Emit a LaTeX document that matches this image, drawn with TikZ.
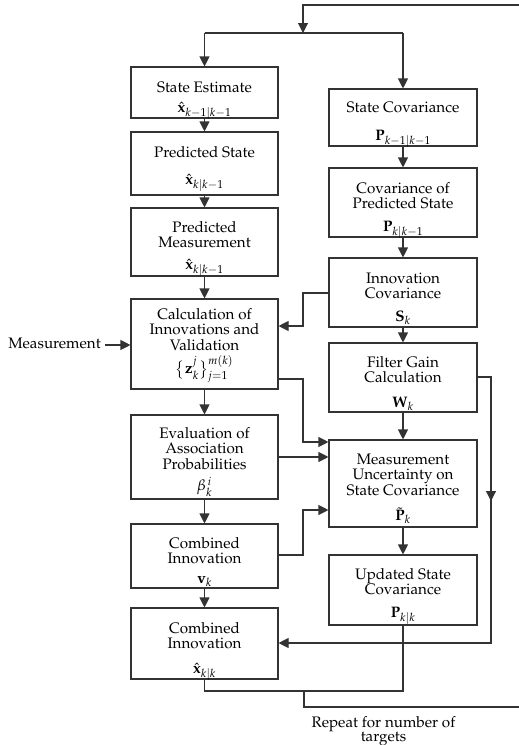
\documentclass[tikz,border=0pt]{standalone}
\usepackage[T1]{fontenc}
\usepackage{mathpazo}
\usetikzlibrary{arrows.meta}
\definecolor{ln}{HTML}{333333}
\newcommand\tstrut{\rule{0pt}{11.5pt}}
\tikzset{
  box/.style={draw=ln, line width=1.1pt, minimum width=147pt, inner sep=0pt},
  txt/.style={align=center, inner sep=0pt, anchor=north, text=black,
    font=\fontsize{15.2}{15.5}\selectfont},
  conn/.style={draw=ln, line width=1.1pt},
  arr/.style={conn, -{Triangle[width=10pt,length=10pt]}},
  lbl/.style={align=center, inner sep=0pt, font=\fontsize{15.2}{14}\selectfont}
}
\begin{document}
\begin{tikzpicture}[x=1pt,y=-1pt]
\useasboundingbox (0,0) rectangle (519,745);
% left column boxes
\node[box, minimum height=51pt] (se) at (204.5,92.5) {};
\node[box, minimum height=63pt] (ps) at (204.5,163.5) {};
\node[box, minimum height=68pt] (pm) at (204.5,242) {};
\node[box, minimum height=90pt] (ci) at (204.5,344) {};
\node[box, minimum height=84pt] (ev) at (204.5,457) {};
\node[box, minimum height=64pt] (cv) at (204.5,556) {};
\node[box, minimum height=71pt] (cx) at (204.5,643.5) {};
% right column boxes
\node[box, minimum width=148pt, minimum height=57pt] (sc) at (403,117.5) {};
\node[box, minimum width=148pt, minimum height=69pt] (cp) at (403,202.5) {};
\node[box, minimum width=148pt, minimum height=69pt] (ic) at (403,292.5) {};
\node[box, minimum width=148pt, minimum height=69pt] (fg) at (403,377.5) {};
\node[box, minimum width=148pt, minimum height=87pt] (mu) at (403,483.5) {};
\node[box, minimum width=148pt, minimum height=70pt] (uc) at (403,590) {};
% texts (anchor north = first baseline - 11.5)
\node[txt] (set) at (204.5,80.5) {\tstrut State Estimate\\[5pt]$\hat{\mathbf{x}}_{k-1|k-1}$};
\node[txt] (pst) at (204.5,145.5) {\tstrut Predicted State\\[12pt]$\hat{\mathbf{x}}_{k|k-1}$};
\node[txt] (pmt) at (204.5,220.5) {\tstrut Predicted\\Measurement\\[6pt]$\hat{\mathbf{x}}_{k|k-1}$};
\node[txt] (cit) at (204.5,307.5) {\tstrut Calculation of\\Innovations and\\Validation\\[4pt]$\bigl\{\mathbf{z}_k^j\bigr\}_{j=1}^{m(k)}$};
\node[txt] (evt) at (204.5,426.5) {\tstrut Evaluation of\\Association\\Probabilities\\[6pt]$\beta_k^{\,i}$};
\node[txt] (cvt) at (204.5,536.5) {\tstrut Combined\\Innovation\\[4pt]$\mathbf{v}_k$};
\node[txt] (cxt) at (204.5,621.5) {\tstrut Combined\\Innovation\\[9pt]$\hat{\mathbf{x}}_{k|k}$};
\node[txt] (sct) at (403,100.5) {\tstrut State Covariance\\[13pt]$\mathbf{P}_{k-1|k-1}$};
\node[txt] (cpt) at (403,181.5) {\tstrut Covariance of\\Predicted State\\[7pt]$\mathbf{P}_{k|k-1}$};
\node[txt] (ict) at (403,271.5) {\tstrut Innovation\\Covariance\\[7pt]$\mathbf{S}_k$};
\node[txt] (fgt) at (403,355.5) {\tstrut Filter Gain\\Calculation\\[9pt]$\mathbf{W}_k$};
\node[txt] (mut) at (403,452.5) {\tstrut Measurement\\Uncertainty on\\State Covariance\\[10pt]$\tilde{\mathbf{P}}_k$};
\node[txt] (uct) at (403,567.5) {\tstrut Updated State\\Covariance\\[7pt]$\mathbf{P}_{k|k}$};
% labels
\node[lbl, anchor=base] (meas) at (54.5,348) {Measurement};
\node[lbl, anchor=north] (rep) at (383.5,716) {\tstrut Repeat for number of\\targets};
% coordinates
\coordinate (topin) at (303,33);
\coordinate (cl) at (204.5,33);
\coordinate (cr) at (403,33);
\coordinate (tr) at (530,5);
\coordinate (br) at (530,707);
\coordinate (bj) at (304,691);
\coordinate (bl) at (204.5,691);
\coordinate (fgx) at (491,377);
\coordinate (mx) at (105,345);
% top feedback
\draw[arr] (tr) -- (303,5) -- (topin);
\draw[conn] (cl) -- (cr);
\draw[arr] (cl) -- (se.north);
\draw[arr] (cr) -- (sc.north);
% column arrows
\draw[arr] (se) -- (ps);
\draw[arr] (ps) -- (pm);
\draw[arr] (pm) -- (ci);
\draw[arr] (ci) -- (ev);
\draw[arr] (ev) -- (cv);
\draw[arr] (cv) -- (cx);
\draw[arr] (sc) -- (cp);
\draw[arr] (cp) -- (ic);
\draw[arr] (ic) -- (fg);
\draw[arr] (fg) -- (mu);
\draw[arr] (mu) -- (uc);
% measurement
\draw[arr] (mx) -- (ci.west |- mx);
% innovation covariance to calculation
\draw[arr] (ic.west |- 0,293) -- (303,293) -- (303,326) -- (ci.east |- 0,326);
% calc to measurement uncertainty
\draw[arr] (ci.east |- 0,379) -- (303,379) -- (303,442) -- (mu.west |- 0,442);
\draw[arr] (ev.east |- 0,457) -- (mu.west |- 0,457);
\draw[arr] (cv.east |- 0,555) -- (303,555) -- (303,510) -- (mu.west |- 0,510);
% filter gain to combined innovation
\draw[arr] (fg.east |- fgx) -- (fgx) -- (491,643) -- (cx.east |- 0,643);
\draw[arr] (491,480) -- (491,501);
% bottom loop
\draw[conn] (cx.south) -- (bl) -- (403,691) -- (uc.south);
\draw[conn] (bj) -- (304,707) -- (br) -- (tr);
\end{tikzpicture}
\end{document}
